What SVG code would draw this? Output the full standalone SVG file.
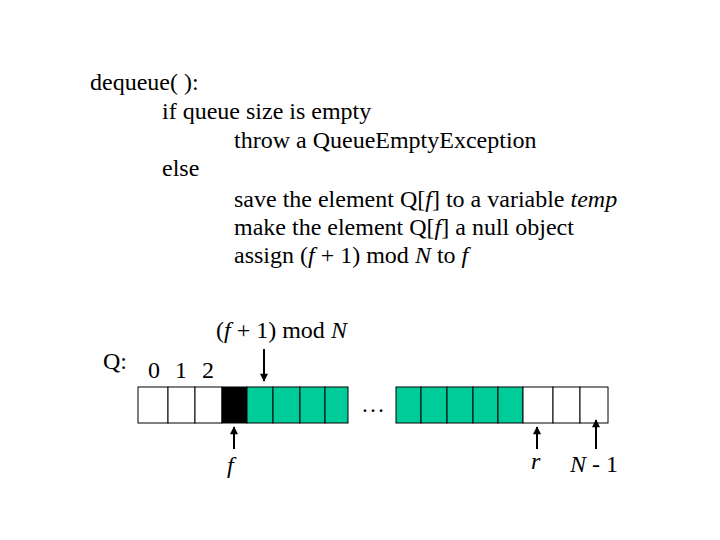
<svg xmlns="http://www.w3.org/2000/svg" width="720" height="540" viewBox="0 0 720 540">
<style>
text{font-family:"Liberation Serif","Times New Roman",serif;font-size:24px;fill:#000}
.i{font-style:italic}
.w{fill:#fff;stroke:#000;stroke-width:1}
.g{fill:#00CC99;stroke:#000;stroke-width:1}
.b{fill:#000;stroke:#000;stroke-width:1}
.a{stroke:#000;stroke-width:2;fill:none;marker-end:url(#ah)}
</style>
<defs>
<marker id="ah" viewBox="0 0 10 10" refX="9" refY="5" markerWidth="5" markerHeight="4" orient="auto" markerUnits="strokeWidth">
<path d="M0,0 L10,5 L0,10 z" fill="#000"/>
</marker>
</defs>
<rect width="720" height="540" fill="#fff"/>
<g id="pseudocode">
<text x="90" y="90">dequeue( ):</text>
<text x="162" y="119">if queue size is empty</text>
<text x="234" y="148">throw a QueueEmptyException</text>
<text x="162" y="176">else</text>
<text x="234" y="207">save the element Q[<tspan class="i">f</tspan>] to a variable <tspan class="i">temp</tspan></text>
<text x="234" y="235">make the element Q[<tspan class="i">f</tspan>] a null object</text>
<text x="234" y="263">assign (<tspan class="i">f</tspan> + 1) mod <tspan class="i">N</tspan> to <tspan class="i">f</tspan></text>
</g>
<g id="array">
<text x="103" y="369">Q:</text>
<text x="148" y="378">0</text>
<text x="175" y="378">1</text>
<text x="202" y="378">2</text>
<rect class="w" x="138" y="387" width="30" height="36"/>
<rect class="w" x="168" y="387" width="27" height="36"/>
<rect class="w" x="195" y="387" width="27" height="36"/>
<rect class="b" x="222" y="387" width="25" height="36"/>
<rect class="g" x="247" y="387" width="26" height="36"/>
<rect class="g" x="273" y="387" width="27" height="36"/>
<rect class="g" x="300" y="387" width="25" height="36"/>
<rect class="g" x="325" y="387" width="23" height="36"/>
<text x="361" y="412">…</text>
<rect class="g" x="396" y="387" width="25" height="36"/>
<rect class="g" x="421" y="387" width="26" height="36"/>
<rect class="g" x="447" y="387" width="26" height="36"/>
<rect class="g" x="473" y="387" width="25" height="36"/>
<rect class="g" x="498" y="387" width="25" height="36"/>
<rect class="w" x="523" y="387" width="30" height="36"/>
<rect class="w" x="553" y="387" width="27" height="36"/>
<rect class="w" x="580" y="387" width="28" height="36"/>
</g>
<g id="labels">
<text x="216" y="338">(<tspan class="i">f</tspan> + 1) mod <tspan class="i">N</tspan></text>
<text class="i" x="227" y="473">f</text>
<text class="i" x="531" y="469">r</text>
<text x="570" y="472"><tspan class="i">N</tspan> - 1</text>
</g>
<g id="connectors">
<line class="a" x1="264" y1="349" x2="264" y2="381"/>
<line class="a" x1="234" y1="449" x2="234" y2="427"/>
<line class="a" x1="537" y1="449" x2="537" y2="427"/>
<line class="a" x1="596" y1="449" x2="596" y2="420"/>
</g>
</svg>
